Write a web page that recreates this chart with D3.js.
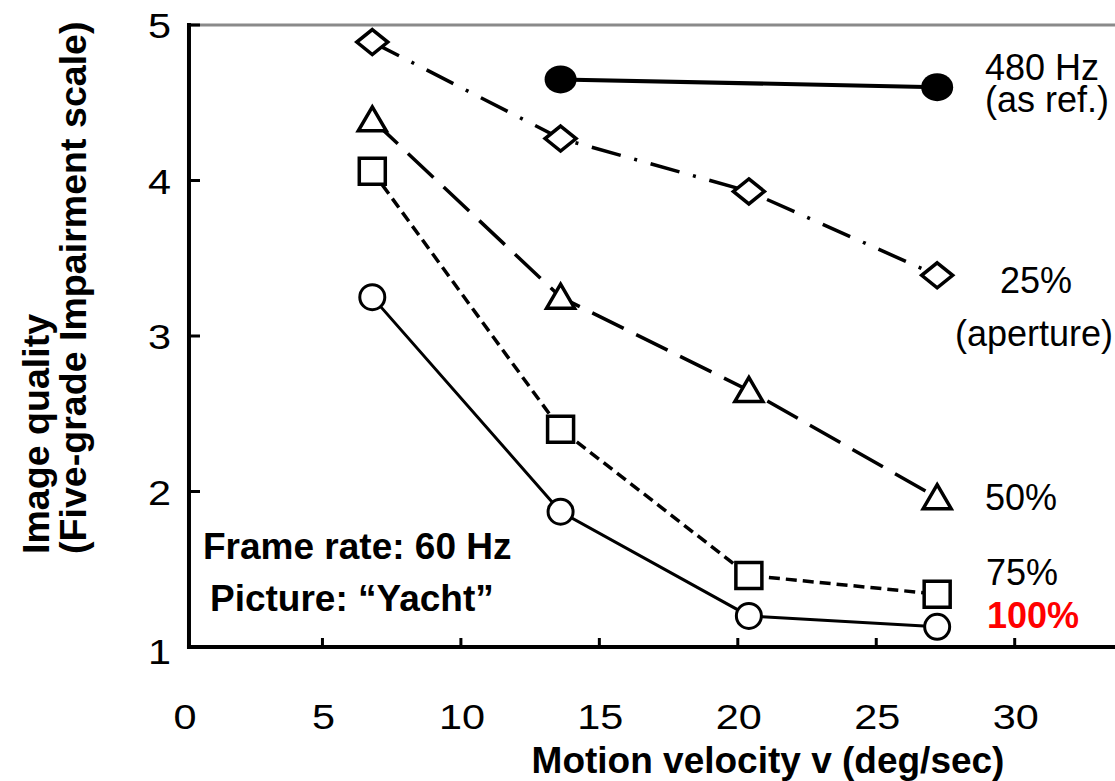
<!DOCTYPE html>
<html>
<head>
<meta charset="utf-8">
<script src="https://cdn.jsdelivr.net/npm/d3@7/dist/d3.min.js"></script>
<style>
  html, body { margin: 0; padding: 0; background: #fff; }
  svg { display: block; font-family: "Liberation Sans", Arial, sans-serif; }
</style>
</head>
<body>
<svg id="chart" width="1115" height="781"></svg>
<script>
// Motion velocity (deg/sec) at which each picture was rated
const velocity = [6.8, 13.6, 20.4, 27.2];
const velocityRef = [13.6, 27.2];

// Image quality scores on the five-grade impairment scale
const ref480 = [4.65, 4.60];
const aperture25 = [4.89, 4.27, 3.93, 3.39];
const aperture50 = [4.39, 3.25, 2.65, 1.96];
const aperture75 = [4.06, 2.40, 1.46, 1.34];
const aperture100 = [3.25, 1.87, 1.20, 1.13];

const xTicks = [0, 5, 10, 15, 20, 25, 30];
const yTicks = [1, 2, 3, 4, 5];

const svg = d3.select("#chart");

const x = d3.scaleLinear().domain([0, 33.55]).range([184, 1113]);
const y = d3.scaleLinear().domain([1, 5]).range([647, 25]);

const axisLeftX = x(0.18);
const rightEdge = 1115;
const tickStretch = 1.15;

// Plot frame: grey top rule, black left and bottom axes
svg.append("line")
  .attr("x1", axisLeftX).attr("x2", rightEdge)
  .attr("y1", y(5)).attr("y2", y(5))
  .attr("stroke", "#8a8a8a").attr("stroke-width", 3);

// inward tick marks
svg.append("g").selectAll("line").data(xTicks.filter(d => d > 0)).join("line")
  .attr("x1", d => x(d)).attr("x2", d => x(d))
  .attr("y1", y(1)).attr("y2", y(1) - 9)
  .attr("stroke", "#000").attr("stroke-width", 3);
svg.append("g").selectAll("line").data(yTicks.filter(d => d > 1)).join("line")
  .attr("x1", axisLeftX).attr("x2", axisLeftX + 11)
  .attr("y1", d => y(d)).attr("y2", d => y(d))
  .attr("stroke", "#000").attr("stroke-width", 3);

svg.append("line")
  .attr("x1", axisLeftX).attr("x2", axisLeftX)
  .attr("y1", y(5) - 2).attr("y2", y(1) + 2)
  .attr("stroke", "#000").attr("stroke-width", 4);
svg.append("line")
  .attr("x1", axisLeftX - 2).attr("x2", rightEdge)
  .attr("y1", y(1)).attr("y2", y(1))
  .attr("stroke", "#000").attr("stroke-width", 4);

// Tick labels (slightly wide digits)
svg.append("g").selectAll("text").data(xTicks).join("text")
  .attr("transform", d => `translate(${x(d) + 1},729) scale(${tickStretch},1)`)
  .attr("text-anchor", "middle")
  .attr("font-size", 36)
  .text(d => d);
svg.append("g").selectAll("text").data(yTicks).join("text")
  .attr("transform", d => `translate(171,${y(d) + 13 + (d === 1 ? 4 : 0)}) scale(${tickStretch},1)`)
  .attr("text-anchor", "end")
  .attr("font-size", 36)
  .text(d => d);

// Axis titles
svg.append("text")
  .attr("x", 768).attr("y", 773)
  .attr("text-anchor", "middle")
  .attr("font-size", 37).attr("font-weight", "bold")
  .text("Motion velocity v (deg/sec)");

const yTitle = svg.append("g").attr("transform", "translate(0,554) rotate(-90)");
yTitle.append("text").attr("x", 0).attr("y", 49)
  .attr("font-size", 37.6).attr("font-weight", "bold")
  .text("Image quality");
yTitle.append("text").attr("x", 0).attr("y", 86)
  .attr("font-size", 37.6).attr("font-weight", "bold")
  .text("(Five-grade Impairment scale)");

// Condition notes
svg.append("text").attr("x", 203).attr("y", 559)
  .attr("font-size", 37).attr("font-weight", "bold")
  .text("Frame rate: 60 Hz");
svg.append("text").attr("x", 210).attr("y", 611)
  .attr("font-size", 37).attr("font-weight", "bold")
  .text("Picture: \u201CYacht\u201D");

// Series
const series = [
  { name: "100%", xs: velocity, ys: aperture100, dash: null, width: 3, marker: "circle" },
  { name: "75%", xs: velocity, ys: aperture75, dash: "11,6", width: 3.5, marker: "square" },
  { name: "50%", xs: velocity, ys: aperture50, dash: "35,14", width: 3.5, marker: "triangle" },
  { name: "25%", xs: velocity, ys: aperture25, dash: "30,14,3,14", width: 3.5, marker: "diamond" },
  { name: "480 Hz", xs: velocityRef, ys: ref480, dash: null, width: 4, marker: "filled" }
];

const line = d3.line().x(d => x(d[0])).y(d => y(d[1]));

const markerPath = {
  square: "M-13,-13H13V13H-13Z",
  diamond: "M0,-12.5L15.5,0L0,12.5L-15.5,0Z",
  triangle: "M0,-13L14,11H-14Z"
};

series.forEach(s => {
  const pts = s.xs.map((v, i) => [v, s.ys[i]]);
  svg.append("path")
    .datum(pts)
    .attr("d", line)
    .attr("fill", "none")
    .attr("stroke", "#000")
    .attr("stroke-width", s.width)
    .attr("stroke-dasharray", s.dash);

  const g = svg.append("g").selectAll("g").data(pts).join("g")
    .attr("transform", d => `translate(${x(d[0])},${y(d[1])})`);
  if (s.marker === "circle") {
    g.append("circle").attr("r", 12.5)
      .attr("fill", "#fff").attr("stroke", "#000").attr("stroke-width", 3);
  } else if (s.marker === "filled") {
    g.append("ellipse").attr("rx", 16).attr("ry", 14).attr("fill", "#000");
  } else {
    g.append("path").attr("d", markerPath[s.marker])
      .attr("fill", "#fff").attr("stroke", "#000").attr("stroke-width", 3.5)
      .attr("stroke-linejoin", "miter");
  }
});

// Series labels
const labels = [
  { text: "480 Hz", x: 985, y: 80 },
  { text: "(as ref.)", x: 985, y: 112 },
  { text: "25%", x: 1000, y: 293 },
  { text: "(aperture)", x: 955, y: 346 },
  { text: "50%", x: 985, y: 510 },
  { text: "75%", x: 986, y: 585 },
  { text: "100%", x: 987, y: 628, bold: true, color: "#ff0000" }
];
svg.append("g").selectAll("text").data(labels).join("text")
  .attr("x", d => d.x).attr("y", d => d.y)
  .attr("font-size", 36)
  .attr("font-weight", d => d.bold ? "bold" : "normal")
  .attr("fill", d => d.color || "#000")
  .text(d => d.text);
</script>
</body>
</html>
